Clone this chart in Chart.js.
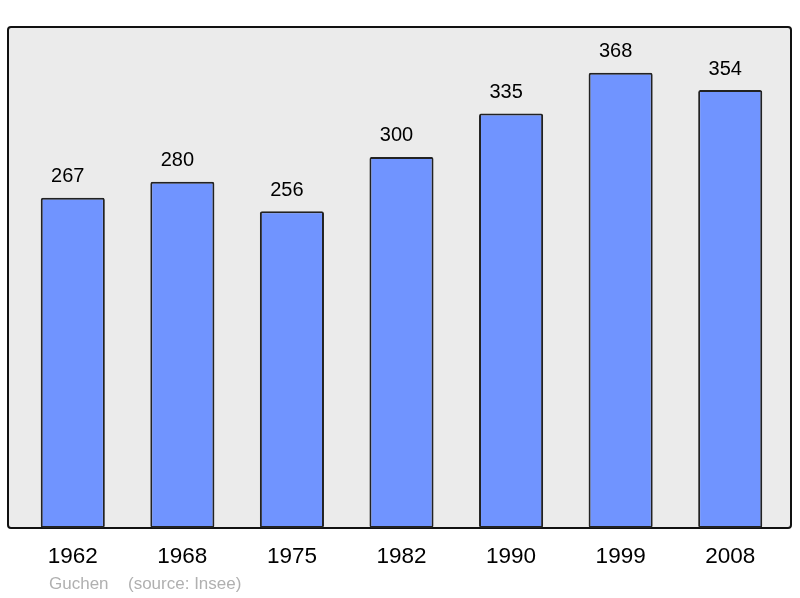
<!DOCTYPE html>
<html>
<head>
<meta charset="utf-8">
<script src="https://cdn.jsdelivr.net/npm/chart.js@4/dist/chart.umd.min.js"></script>
<style>
html,body{margin:0;padding:0;background:#fff;}
#wrap{width:800px;height:598px;}
</style>
</head>
<body>
<div id="wrap"><canvas id="c" width="800" height="598"></canvas></div>
<script>
const years = ['1962','1968','1975','1982','1990','1999','2008'];
const population = [267, 280, 256, 300, 335, 368, 354];
const footerName = 'Guchen';
const footerSource = '(source: Insee)';

const FONT = "'Liberation Sans', Arial, sans-serif";

const frame = {
  id: 'frame',
  beforeDraw(chart) {
    const {ctx, chartArea: a} = chart;
    const x0 = a.left - 10, x1 = a.right + 6, y0 = a.top, y1 = a.bottom;
    const r = 3;
    ctx.save();
    ctx.beginPath();
    ctx.moveTo(x0 + r, y0);
    ctx.lineTo(x1 - r, y0); ctx.quadraticCurveTo(x1, y0, x1, y0 + r);
    ctx.lineTo(x1, y1 - r); ctx.quadraticCurveTo(x1, y1, x1 - r, y1);
    ctx.lineTo(x0 + r, y1); ctx.quadraticCurveTo(x0, y1, x0, y1 - r);
    ctx.lineTo(x0, y0 + r); ctx.quadraticCurveTo(x0, y0, x0 + r, y0);
    ctx.closePath();
    ctx.fillStyle = '#ebebeb';
    ctx.fill();
    ctx.lineWidth = 2;
    ctx.strokeStyle = '#111';
    ctx.stroke();
    ctx.restore();
  },
  afterDraw(chart) {
    const {ctx} = chart;
    const meta = chart.getDatasetMeta(0);
    ctx.save();
    ctx.font = '20px ' + FONT;
    ctx.fillStyle = '#000';
    ctx.textAlign = 'center';
    ctx.textBaseline = 'middle';
    meta.data.forEach((bar, i) => {
      ctx.fillText(String(population[i]), bar.x - 5, bar.y - 21);
    });
    ctx.font = '17px ' + FONT;
    ctx.fillStyle = '#b0b0b0';
    ctx.textAlign = 'left';
    ctx.fillText(footerName, 49, 584);
    ctx.fillText(footerSource, 128, 584);
    ctx.restore();
  }
};

new Chart(document.getElementById('c'), {
  type: 'bar',
  data: {
    labels: years,
    datasets: [{
      data: population,
      backgroundColor: '#7094ff',
      borderColor: '#222',
      borderWidth: 2,
      borderRadius: 2,
      borderSkipped: false,
      barPercentage: 0.585,
      categoryPercentage: 1
    }]
  },
  options: {
    responsive: false,
    animation: false,
    layout: { padding: { left: 18, right: 15, top: 27, bottom: 13 } },
    plugins: { legend: { display: false }, tooltip: { enabled: false } },
    scales: {
      y: { display: false, min: 0, max: 405 },
      x: {
        grid: { display: false, drawTicks: false },
        border: { display: false },
        ticks: { color: '#000', font: { size: 22.5, family: FONT }, padding: 15 }
      }
    }
  },
  plugins: [frame]
});
</script>
</body>
</html>
